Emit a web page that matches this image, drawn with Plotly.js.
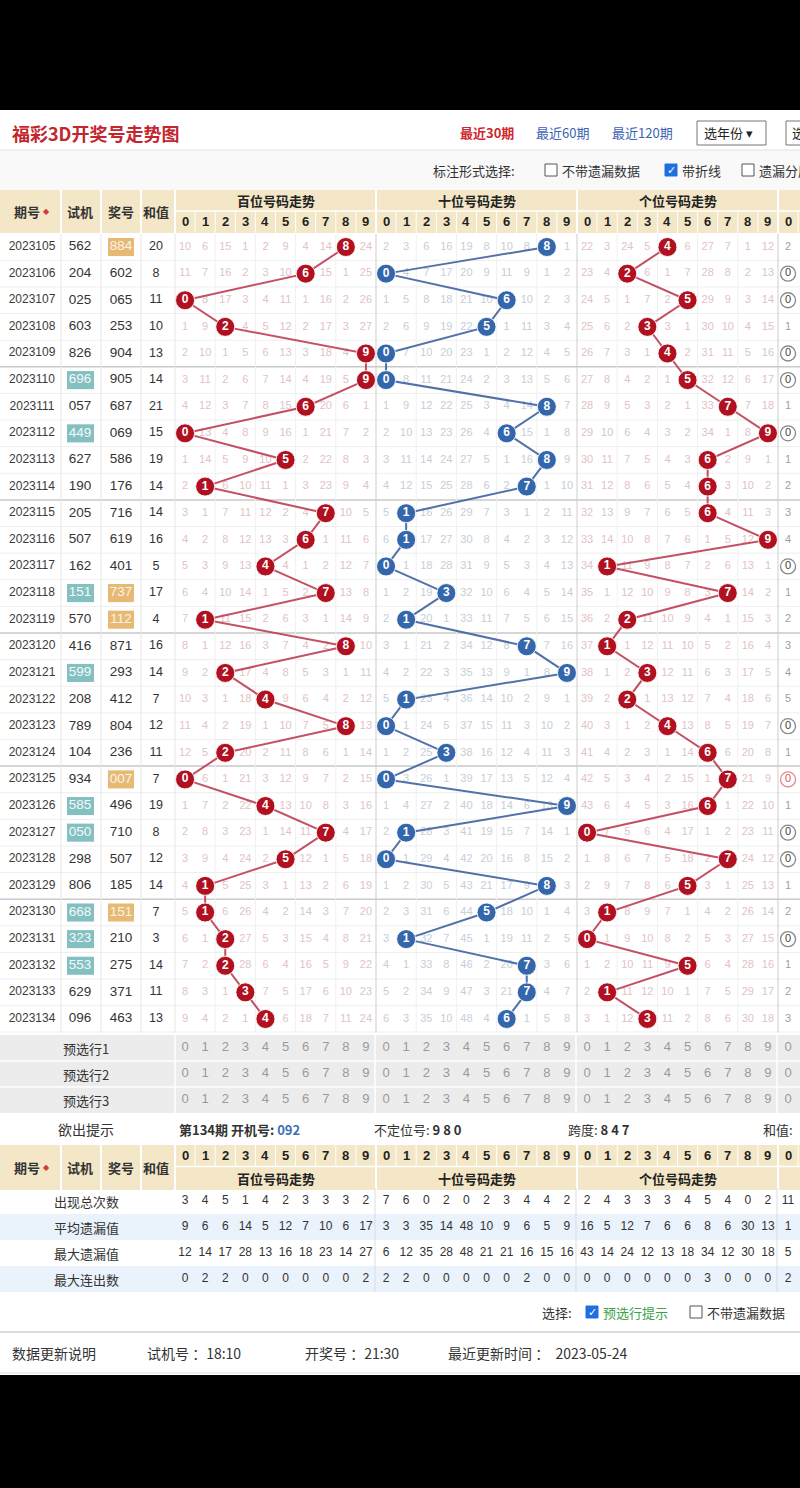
<!DOCTYPE html>
<html>
<head>
<meta charset="utf-8">
<script src="https://cdn.plot.ly/plotly-3.0.1.min.js"></script>
<style>html,body{margin:0;padding:0;background:#000;}</style>
</head>
<body>
<div id="chart" style="width:800px;height:1488px"></div>
<script>
// ---- draw data ----
const periods = ['2023105','2023106','2023107','2023108','2023109','2023110','2023111','2023112','2023113','2023114',
  '2023115','2023116','2023117','2023118','2023119','2023120','2023121','2023122','2023123','2023124',
  '2023125','2023126','2023127','2023128','2023129','2023130','2023131','2023132','2023133','2023134'];
const testNums = ['562','204','025','603','826','696','057','449','627','190',
  '205','507','162','151','570','416','599','208','789','104',
  '934','585','050','298','806','668','323','553','629','096'];
const drawNums = ['884','602','065','253','904','905','687','069','586','176',
  '716','619','401','737','112','871','293','412','804','236',
  '007','496','710','507','185','151','210','275','371','463'];
const sums = [20,8,11,10,13,14,21,15,19,14,14,16,5,17,4,16,14,7,12,11,7,19,8,12,14,7,3,14,11,13];

// omission counts per digit 0-9 (0 = drawn this period)
const hundredsMiss = [
  [10,6,15,1,2,9,4,14,0,24],[11,7,16,2,3,10,0,15,1,25],[0,8,17,3,4,11,1,16,2,26],[1,9,0,4,5,12,2,17,3,27],
  [2,10,1,5,6,13,3,18,4,0],[3,11,2,6,7,14,4,19,5,0],[4,12,3,7,8,15,0,20,6,1],[0,13,4,8,9,16,1,21,7,2],
  [1,14,5,9,10,0,2,22,8,3],[2,0,6,10,11,1,3,23,9,4],[3,1,7,11,12,2,4,0,10,5],[4,2,8,12,13,3,0,1,11,6],
  [5,3,9,13,0,4,1,2,12,7],[6,4,10,14,1,5,2,0,13,8],[7,0,11,15,2,6,3,1,14,9],[8,1,12,16,3,7,4,2,0,10],
  [9,2,0,17,4,8,5,3,1,11],[10,3,1,18,0,9,6,4,2,12],[11,4,2,19,1,10,7,5,0,13],[12,5,0,20,2,11,8,6,1,14],
  [0,6,1,21,3,12,9,7,2,15],[1,7,2,22,0,13,10,8,3,16],[2,8,3,23,1,14,11,0,4,17],[3,9,4,24,2,0,12,1,5,18],
  [4,0,5,25,3,1,13,2,6,19],[5,0,6,26,4,2,14,3,7,20],[6,1,0,27,5,3,15,4,8,21],[7,2,0,28,6,4,16,5,9,22],
  [8,3,1,0,7,5,17,6,10,23],[9,4,2,1,0,6,18,7,11,24]];
const tensMiss = [
  [2,3,6,16,19,8,10,8,0,1],[0,4,7,17,20,9,11,9,1,2],[1,5,8,18,21,10,0,10,2,3],[2,6,9,19,22,0,1,11,3,4],
  [0,7,10,20,23,1,2,12,4,5],[0,8,11,21,24,2,3,13,5,6],[1,9,12,22,25,3,4,14,0,7],[2,10,13,23,26,4,0,15,1,8],
  [3,11,14,24,27,5,1,16,0,9],[4,12,15,25,28,6,2,0,1,10],[5,0,16,26,29,7,3,1,2,11],[6,0,17,27,30,8,4,2,3,12],
  [0,1,18,28,31,9,5,3,4,13],[1,2,19,0,32,10,6,4,5,14],[2,0,20,1,33,11,7,5,6,15],[3,1,21,2,34,12,8,0,7,16],
  [4,2,22,3,35,13,9,1,8,0],[5,0,23,4,36,14,10,2,9,1],[0,1,24,5,37,15,11,3,10,2],[1,2,25,0,38,16,12,4,11,3],
  [0,3,26,1,39,17,13,5,12,4],[1,4,27,2,40,18,14,6,13,0],[2,0,28,3,41,19,15,7,14,1],[0,1,29,4,42,20,16,8,15,2],
  [1,2,30,5,43,21,17,9,0,3],[2,3,31,6,44,0,18,10,1,4],[3,0,32,7,45,1,19,11,2,5],[4,1,33,8,46,2,20,0,3,6],
  [5,2,34,9,47,3,21,0,4,7],[6,3,35,10,48,4,0,1,5,8]];
const unitsMiss = [
  [22,3,24,5,0,6,27,7,1,12],[23,4,0,6,1,7,28,8,2,13],[24,5,1,7,2,0,29,9,3,14],[25,6,2,0,3,1,30,10,4,15],
  [26,7,3,1,0,2,31,11,5,16],[27,8,4,2,1,0,32,12,6,17],[28,9,5,3,2,1,33,0,7,18],[29,10,6,4,3,2,34,1,8,0],
  [30,11,7,5,4,3,0,2,9,1],[31,12,8,6,5,4,0,3,10,2],[32,13,9,7,6,5,0,4,11,3],[33,14,10,8,7,6,1,5,12,0],
  [34,0,11,9,8,7,2,6,13,1],[35,1,12,10,9,8,3,0,14,2],[36,2,0,11,10,9,4,1,15,3],[37,0,1,12,11,10,5,2,16,4],
  [38,1,2,0,12,11,6,3,17,5],[39,2,0,1,13,12,7,4,18,6],[40,3,1,2,0,13,8,5,19,7],[41,4,2,3,1,14,0,6,20,8],
  [42,5,3,4,2,15,1,0,21,9],[43,6,4,5,3,16,0,1,22,10],[0,7,5,6,4,17,1,2,23,11],[1,8,6,7,5,18,2,0,24,12],
  [2,9,7,8,6,0,3,1,25,13],[3,0,8,9,7,1,4,2,26,14],[0,1,9,10,8,2,5,3,27,15],[1,2,10,11,9,0,6,4,28,16],
  [2,0,11,12,10,1,7,5,29,17],[3,1,12,0,11,2,8,6,30,18]];
// number distribution column for digit 0
const zeroMiss = [2,0,0,1,0,0,1,0,1,2,3,4,0,1,2,3,4,5,0,1,0,1,0,0,1,2,0,1,2,3];

const digitLabels = ['0','1','2','3','4','5','6','7','8','9'];
const groupTitles = ['百位号码走势','十位号码走势','个位号码走势'];
const presetLabels = ['预选行1','预选行2','预选行3'];
const statLabels = ['出现总次数','平均遗漏值','最大遗漏值','最大连出数'];
const statAppear  = [3,4,5,1,4,2,3,3,3,2, 7,6,0,2,0,2,3,4,4,2, 2,4,3,3,3,4,5,4,0,2, 11];
const statAvgMiss = [9,6,6,14,5,12,7,10,6,17, 3,3,35,14,48,10,9,6,5,9, 16,5,12,7,6,6,8,6,30,13, 1];
const statMaxMiss = [12,14,17,28,13,16,18,23,14,27, 6,12,35,28,48,21,21,16,15,16, 43,14,24,12,13,18,34,12,30,18, 5];
const statMaxRun  = [0,2,2,0,0,0,0,0,0,2, 2,2,0,0,0,0,0,2,0,0, 0,0,0,0,0,0,3,0,0,0, 2];
const statRows = [statAppear, statAvgMiss, statMaxMiss, statMaxRun];

// ---- page geometry ----
const W = 800, H = 1488;
const px = v => v / W, py = v => 1 - v / H;
const GRID_X0 = 175, CW = 20.1;
const ROW_TOP = 233.7, ROW_BOT = 1032.3;
const FONT = '"Liberation Sans", "Noto Sans CJK SC", sans-serif';
const CJK = '"Noto Sans CJK SC", "Liberation Sans", sans-serif';
const nRows = periods.length;

const shapes = [];
const annotations = [];
function rect(x0, y0, x1, y1, fill, line) {
  shapes.push({type:'rect', xref:'paper', yref:'paper', x0:px(x0), x1:px(x1), y0:py(y0), y1:py(y1),
    fillcolor:fill, line:line || {width:0}, layer:'below'});
}
function hline(y, x0, x1, color, w) {
  shapes.push({type:'line', xref:'paper', yref:'paper', x0:px(x0), x1:px(x1), y0:py(y), y1:py(y),
    line:{color:color, width:w || 1}, layer:'below'});
}
function vline(x, y0, y1, color, w) {
  shapes.push({type:'line', xref:'paper', yref:'paper', x0:px(x), x1:px(x), y0:py(y0), y1:py(y1),
    line:{color:color, width:w || 1}, layer:'below'});
}
function label(text, x, y, opt) {
  opt = opt || {};
  annotations.push({text:text, x:px(x), y:py(y), xref:'paper', yref:'paper', showarrow:false,
    xanchor:opt.anchor || 'center', yanchor:'middle',
    font:{family:opt.family || CJK, size:opt.size || 13, color:opt.color || '#333', weight:opt.weight || 'normal'}});
}
function checkbox(x, y, checked) {
  rect(x, y - 6, x + 12, y + 6, checked ? '#1e6fe0' : '#fff', {color: checked ? '#1e6fe0' : '#555', width:1});
  if (checked) label('✓', x + 6, y, {color:'#fff', size:11, family:'"DejaVu Sans", sans-serif', weight:'bold'});
}
const colCenter = c => c + 0.5;   // column index -> x-axis value

// ---- page background ----
rect(0, 110, 800, 1375, '#ffffff');

// ---- title bar ----
label('福彩3D开奖号走势图', 10, 133, {anchor:'left', size:18, color:'#c4262e', weight:'bold'});
label('最近30期', 458, 133, {anchor:'left', size:13, color:'#d0262e', weight:'bold'});
label('最近60期', 534, 133, {anchor:'left', size:13, color:'#3b63b3'});
label('最近120期', 610, 133, {anchor:'left', size:13, color:'#3b63b3'});
rect(697, 121, 766, 145, '#fff', {color:'#777', width:1});
label('选年份 ▾', 702, 133, {anchor:'left', size:13, color:'#222'});
rect(786, 121, 812, 145, '#fff', {color:'#777', width:1});
label('选', 790, 133, {anchor:'left', size:13, color:'#222'});
rect(0, 150, 800, 190, '#f9f9f9');
hline(150, 0, 800, '#e2e2e2', 1);
label('标注形式选择:', 431, 170, {anchor:'left', size:13, color:'#333'});
checkbox(545, 170, false);
label('不带遗漏数据', 560, 170, {anchor:'left', size:13, color:'#333'});
checkbox(665, 170, true);
label('带折线', 680, 170, {anchor:'left', size:13, color:'#333'});
checkbox(742, 170, false);
label('遗漏分层', 757, 170, {anchor:'left', size:13, color:'#333'});

// ---- table header (top and bottom copies) ----
const HEADER_BG = '#f3e7c7';
const leftCols = [{t:'期号', x:27}, {t:'试机', x:80}, {t:'奖号', x:121}, {t:'和值', x:156}];
const leftEdges = [61, 101, 141, 175];
function tableHeader(top, bottom, digitY, titleY) {
  rect(0, top, 800, bottom, HEADER_BG);
  leftEdges.forEach(x => vline(x, top, bottom, '#ffffff', 2));
  leftCols.forEach(c => label(c.t, c.x, (top + bottom) / 2, {size:13, weight:'bold', color:'#333'}));
  label('◆', 46, (top + bottom) / 2, {size:8, color:'#d03a3a', family:'"DejaVu Sans", sans-serif'});
  const mid = (digitY + titleY) / 2;
  hline(mid, GRID_X0, 800, '#ffffff', 1.5);
  for (let c = 0; c <= 31; c++) {
    const isGroup = c % 10 === 0;
    shapes.push({type:'line', xref:'x', yref:'paper', x0:c, x1:c,
      y0:py(isGroup ? top : (digitY < titleY ? top : mid)), y1:py(isGroup ? bottom : (digitY < titleY ? mid : bottom)),
      line:{color:'#ffffff', width:isGroup ? 2 : 1}, layer:'below'});
  }
  for (let c = 0; c < 31; c++) {
    annotations.push({text:digitLabels[c % 10], x:colCenter(c), y:py(digitY), xref:'x', yref:'paper',
      showarrow:false, xanchor:'center', yanchor:'middle',
      font:{family:FONT, size:13, color:'#222', weight:'bold'}});
  }
  groupTitles.forEach((t, s) => {
    annotations.push({text:t, x:s * 10 + 5, y:py(titleY), xref:'x', yref:'paper', showarrow:false,
      xanchor:'center', yanchor:'middle', font:{family:CJK, size:13, color:'#222', weight:'bold'}});
  });
}
tableHeader(190, 233, 222, 200);

// ---- body grid ----
for (let i = 0; i < nRows - 1; i++) {
  const groupEnd = (i + 1) % 5 === 0;
  shapes.push({type:'line', xref:'paper', yref:'y', x0:0, x1:1, y0:i + 0.5, y1:i + 0.5,
    line:{color:groupEnd ? '#c9c9c9' : '#eeeeee', width:groupEnd ? 1.5 : 1}, layer:'below'});
}
shapes.push({type:'line', xref:'paper', yref:'y', x0:0, x1:1, y0:nRows - 0.5, y1:nRows - 0.5,
  line:{color:'#d8d8d8', width:1}, layer:'below'});
leftEdges.forEach(x => vline(x, ROW_TOP, ROW_BOT, '#e6e6e6', 1));
for (let c = 1; c <= 31; c++) {
  const isGroup = c % 10 === 0;
  if (!isGroup && c % 2 === 1) continue;
  shapes.push({type:'line', xref:'x', yref:'paper', x0:c, x1:c, y0:py(ROW_TOP), y1:py(ROW_BOT),
    line:{color:isGroup ? '#cdcdcd' : '#f0f0f0', width:1}, layer:'below'});
}

// highlight repeated-digit numbers in the left columns
const hasPair = s => new Set(s.split('')).size < s.length;
testNums.forEach((n, i) => {
  if (hasPair(n)) shapes.push({type:'rect', xref:'x2', yref:'y', x0:67, x1:94, y0:i - 0.34, y1:i + 0.34,
    fillcolor:'#84c0c2', line:{width:0}, layer:'below'});
});
drawNums.forEach((n, i) => {
  if (hasPair(n)) shapes.push({type:'rect', xref:'x2', yref:'y', x0:108, x1:134, y0:i - 0.34, y1:i + 0.34,
    fillcolor:'#e6ba74', line:{width:0}, layer:'below'});
});

const idx = periods.map((_, i) => i);
const traces = [];
function leftText(values, x, size, colorFn) {
  traces.push({type:'scatter', mode:'text', xaxis:'x2', yaxis:'y', x:values.map(() => x), y:idx,
    text:values.map(String), textposition:'middle center', cliponaxis:false, hoverinfo:'skip',
    textfont:{family:FONT, size:size, color:values.map(colorFn)}});
}
leftText(periods, 32, 12, () => '#3a3a3a');
leftText(testNums, 80, 13.5, v => hasPair(v) ? '#f4fafa' : '#333');
leftText(drawNums, 121, 13.5, v => hasPair(v) ? '#fbf4e6' : '#333');
leftText(sums, 156, 12.5, () => '#333');

// omission numbers
const sections = [
  {miss:hundredsMiss, color:'#dfc3c5'},
  {miss:tensMiss, color:'#c6ced8'},
  {miss:unitsMiss, color:'#dfc3c5'}];
sections.forEach((sec, s) => {
  const xs = [], ys = [], ts = [];
  sec.miss.forEach((row, i) => row.forEach((v, d) => {
    if (v !== 0) { xs.push(colCenter(s * 10 + d)); ys.push(i); ts.push(String(v)); }
  }));
  traces.push({type:'scatter', mode:'text', x:xs, y:ys, text:ts, textposition:'middle center',
    hoverinfo:'skip', cliponaxis:false, textfont:{family:FONT, size:11, color:sec.color}});
});

// digit-0 distribution column
const zeroCount = drawNums.map(n => n.split('').filter(ch => ch === '0').length);
traces.push({type:'scatter', mode:'markers+text', x:zeroMiss.map(() => colCenter(30)), y:idx,
  text:zeroMiss.map(String), textposition:'middle center', hoverinfo:'skip', cliponaxis:false,
  marker:{symbol:'circle-open', size:zeroMiss.map(v => v === 0 ? 15 : 0),
    color:zeroCount.map(c => c > 1 ? '#e0505a' : '#555'), line:{width:1.3}},
  textfont:{family:FONT, size:11, color:zeroMiss.map((v, i) => v === 0 ? (zeroCount[i] > 1 ? '#e0505a' : '#444') : '#a0a0a0')}});

// winning-number trend lines
const palette = [
  {fill:'#b0101f', line:'rgba(188,62,82,0.9)'},
  {fill:'#3466ab', line:'rgba(62,98,158,0.9)'},
  {fill:'#b0101f', line:'rgba(188,62,82,0.9)'}];
[0, 1, 2].forEach(s => {
  const digits = drawNums.map(n => Number(n[s]));
  traces.push({type:'scatter', mode:'lines+markers+text', x:digits.map(d => colCenter(s * 10 + d)), y:idx,
    text:digits.map(String), textposition:'middle center', hoverinfo:'skip', cliponaxis:false,
    line:{color:palette[s].line, width:2},
    marker:{size:19, color:palette[s].fill, line:{color:'rgba(255,255,255,0.85)', width:1}},
    textfont:{family:FONT, size:12, color:'#ffffff', weight:'bold'}});
});

// ---- preselect rows ----
rect(0, 1035, 800, 1113, '#ececec');
hline(1061, 0, 800, '#ffffff', 1.5);
hline(1087, 0, 800, '#ffffff', 1.5);
vline(175, 1035, 1113, '#ffffff', 1.5);
[375, 576, 777].forEach(x => vline(x, 1035, 1113, '#ffffff', 1.5));
presetLabels.forEach((t, r) => {
  annotations.push({text:t, x:px(86), y:r, xref:'paper', yref:'y3', showarrow:false, xanchor:'center',
    yanchor:'middle', font:{family:CJK, size:13, color:'#333'}});
  const cols = [];
  for (let c = 0; c < 31; c++) cols.push(c);
  traces.push({type:'scatter', mode:'text', xaxis:'x', yaxis:'y3', x:cols.map(colCenter), y:cols.map(() => r),
    text:cols.map(c => digitLabels[c % 10]), textposition:'middle center', hoverinfo:'skip', cliponaxis:false,
    textfont:{family:FONT, size:13, color:'#9a9a9a'}});
});

// ---- hint row ----
label('欲出提示', 86, 1129, {size:14, color:'#333'});
label('第134期 开机号: <span style="color:#3d6fb8">092</span>', 177, 1129, {anchor:'left', size:13, weight:'bold', color:'#333'});
label('不定位号: <b>9 8 0</b>', 372, 1129, {anchor:'left', size:13, color:'#333'});
label('跨度: <b>8 4 7</b>', 566, 1129, {anchor:'left', size:13, color:'#333'});
label('和值:', 761, 1129, {anchor:'left', size:13, color:'#333'});

// ---- bottom header + statistics ----
tableHeader(1145, 1190, 1155, 1178);
statLabels.forEach((t, r) => {
  if (r % 2 === 1) rect(0, 1188 + r * 26, 800, 1188 + (r + 1) * 26, '#eaf2fb');
  annotations.push({text:t, x:px(86), y:r, xref:'paper', yref:'y2', showarrow:false, xanchor:'center',
    yanchor:'middle', font:{family:CJK, size:13, color:'#333'}});
  const vals = statRows[r];
  traces.push({type:'scatter', mode:'text', xaxis:'x', yaxis:'y2', x:vals.map((_, c) => colCenter(c)),
    y:vals.map(() => r), text:vals.map(String), textposition:'middle center', hoverinfo:'skip', cliponaxis:false,
    textfont:{family:FONT, size:12, color:'#333'}});
});
[375, 576, 777].forEach(x => vline(x, 1188, 1292, '#dddddd', 1));

// ---- options + footer ----
label('选择:', 540, 1312, {anchor:'left', size:13, color:'#333'});
checkbox(586, 1312, true);
label('预选行提示', 601, 1312, {anchor:'left', size:13, color:'#3aa34a'});
checkbox(690, 1312, false);
label('不带遗漏数据', 705, 1312, {anchor:'left', size:13, color:'#333'});
hline(1332, 0, 800, '#cfcfcf', 1.5);
label('数据更新说明', 10, 1353, {anchor:'left', size:14, color:'#333'});
label('试机号 ：18:10', 145, 1353, {anchor:'left', size:14, color:'#333'});
label('开奖号 ：21:30', 303, 1353, {anchor:'left', size:14, color:'#333'});
label('最近更新时间 ：  2023-05-24', 446, 1353, {anchor:'left', size:14, color:'#333'});
hline(1373, 0, 800, '#dddddd', 1);

const axisBase = {showgrid:false, zeroline:false, showticklabels:false, ticks:'', showline:false, fixedrange:true};
const layout = {
  width:W, height:H, margin:{l:0, r:0, t:0, b:0}, paper_bgcolor:'#000000', plot_bgcolor:'rgba(0,0,0,0)',
  showlegend:false, hovermode:false,
  xaxis:Object.assign({}, axisBase, {domain:[px(GRID_X0), 1], range:[0, (W - GRID_X0) / CW], anchor:'y'}),
  yaxis:Object.assign({}, axisBase, {domain:[py(ROW_BOT), py(ROW_TOP)], range:[nRows - 0.5, -0.5], anchor:'x'}),
  xaxis2:Object.assign({}, axisBase, {domain:[0, px(GRID_X0)], range:[0, GRID_X0], anchor:'y'}),
  yaxis2:Object.assign({}, axisBase, {domain:[py(1292), py(1188)], range:[3.5, -0.5], anchor:'x'}),
  yaxis3:Object.assign({}, axisBase, {domain:[py(1113), py(1035)], range:[2.5, -0.5], anchor:'x'}),
  shapes:shapes, annotations:annotations
};
Plotly.newPlot('chart', traces, layout, {displayModeBar:false, staticPlot:true});
</script>
</body>
</html>
